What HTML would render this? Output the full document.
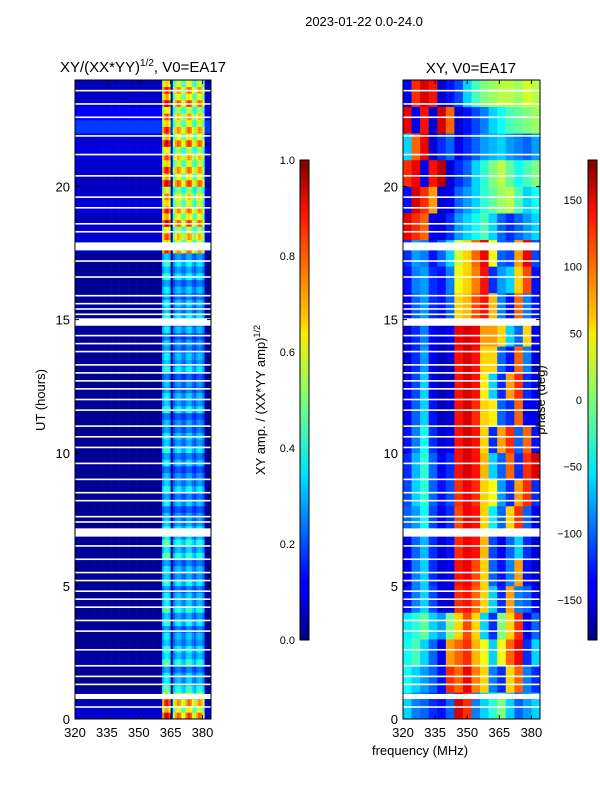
<!DOCTYPE html>
<html><head><meta charset="utf-8">
<style>
body{margin:0;background:#fff;}
svg text{font-family:"Liberation Sans",sans-serif;fill:#000;}
</style></head>
<body>
<svg id="fig" width="600" height="800" viewBox="0 0 600 800" xmlns="http://www.w3.org/2000/svg">
<defs>
<linearGradient id="jet" x1="0" y1="1" x2="0" y2="0">
<stop offset="0" stop-color="#00007f"/><stop offset="0.11" stop-color="#0000ff"/>
<stop offset="0.125" stop-color="#0000ff"/><stop offset="0.34" stop-color="#00dcff"/>
<stop offset="0.35" stop-color="#00e5f7"/><stop offset="0.5" stop-color="#7dff7a"/>
<stop offset="0.64" stop-color="#ffea00"/><stop offset="0.66" stop-color="#ffd000"/>
<stop offset="0.89" stop-color="#ff1300"/><stop offset="1" stop-color="#7f0000"/>
</linearGradient>
</defs>
<text x="364" y="26" font-size="13" text-anchor="middle">2023-01-22 0.0-24.0</text>
<text x="143" y="72" font-size="15" text-anchor="middle">XY/(XX*YY)<tspan font-size="10" dy="-6">1/2</tspan><tspan dy="6">, V0=EA17</tspan></text>
<text x="471" y="73" font-size="15" text-anchor="middle">XY, V0=EA17</text>
<g id="left"></g>
<g id="right"></g>
<g id="axes"></g>
<rect x="300" y="160" width="9" height="480" fill="url(#jet)" stroke="#000" stroke-width="1"/>
<rect x="588" y="160" width="9" height="480" fill="url(#jet)" stroke="#000" stroke-width="1"/>
<text transform="translate(45,400) rotate(-90)" font-size="13" text-anchor="middle">UT (hours)</text>
<text transform="translate(265,400) rotate(-90)" font-size="13" text-anchor="middle">XY amp. / (XX*YY amp)<tspan font-size="9" dy="-5">1/2</tspan></text>
<text transform="translate(545,400) rotate(-90)" font-size="13" text-anchor="middle">phase (deg)</text>
<text x="420" y="755" font-size="13" text-anchor="middle">frequency (MHz)</text>
</svg>
<script>
// ---- data ----
const ampTicks = ["0.0","0.2","0.4","0.6","0.8","1.0"];
const phaseTicks = [-150,-100,-50,0,50,100,150];
const timeTicks = [0,5,10,15,20];
const freqTicks = [320,335,350,365,380];
const bandStarts = [361.0,366.4,371.5,376.5];
const bandEnds = [365.4,371.0,375.8,380.8];
const bandWeights = [1.0,0.85,0.9,0.85];
// per 0.5 h row, bottom to top
const bandLevel = [0.85,0.8,0.45,0.35,0.45,0.4,0.35,0.4,0.45,0.35,0.4,0.35,0.45,0.45,
 0.4,0.3,0.35,0.4,0.3,0.35,0.4,0.35,0.3,0.4,0.35,0.3,0.4,0.35,0.3,0.35,0.4,0.35,0.35,0.4,0.4,
 0.8,0.75,0.85,0.8,0.7,0.85,0.8,0.75,0.85,0.8,0.75,0.85,0.8];
const bgLevel = [0.08,0.06,0.02,0.02,0.03,0.02,0.02,0.02,0.02,0.02,0.02,0.02,0.02,0.02,
 0.02,0.02,0.02,0.02,0.02,0.02,0.02,0.02,0.02,0.02,0.02,0.02,0.02,0.02,0.02,0.02,0.02,0.02,0.02,0.02,0.02,
 0.06,0.08,0.06,0.09,0.07,0.06,0.08,0.1,0.08,0.18,0.12,0.07,0.06];
// phase (deg), rows of 1 h, columns of 4 MHz (320..384)
const phase = [
[-60,-90,-100,-120,-130,-100,150,120,-90,-60,-30,0,-60,-100,-80,-60],
[-40,-60,-80,-100,-130,120,100,140,90,60,-90,-120,60,100,-90,-120],
[-40,-20,-60,-100,-140,80,100,120,70,40,-60,40,100,140,-120,-60],
[-50,-30,-10,-60,-80,0,60,110,60,-60,-120,0,60,120,-140,-100],
[-130,-90,-60,-110,-150,-150,120,130,100,60,-60,-120,80,-90,-100,-140],
[-140,-90,-60,-120,-150,-140,130,140,110,60,-100,-130,-90,80,-130,-150],
[-140,-100,-70,-120,-150,-130,120,140,130,70,-110,-140,-100,-60,-120,-150],
[-100,-80,-40,-110,-140,-120,110,140,130,60,-50,-100,60,120,-100,-140],
[-110,-60,-30,-100,-130,-110,120,140,120,60,40,-80,-120,80,120,-120],
[-120,-70,-30,-100,-140,-120,130,150,130,70,-60,-100,100,-120,120,150],
[-130,-90,-40,-120,-150,-140,130,150,130,60,-120,80,120,-100,100,-130],
[-140,-100,-60,-130,-160,-150,130,150,120,60,50,-100,-120,100,-140,-140],
[-140,-110,-60,-140,-160,-150,130,150,130,50,-60,-120,80,120,-120,-140],
[-150,-120,-80,-140,-160,-150,130,150,130,60,60,-100,-130,100,-90,-150],
[-150,-120,-90,-140,-150,-140,140,150,140,80,80,60,-60,-100,60,-140],
[-140,-100,-80,-120,-130,-100,60,70,110,130,70,-90,-130,100,-90,-130],
[-130,-90,-80,-120,-130,-90,40,60,90,130,-120,-80,-60,60,110,-130],
[-120,-80,-90,-130,-100,-60,30,60,100,140,40,-100,-110,80,140,-110],
[140,120,100,-140,-150,-120,-80,-60,-40,-20,-60,-100,-120,-100,-80,-60],
[-130,150,120,80,-150,-140,-100,-80,-60,-30,-10,10,20,-20,-60,-40],
[120,140,-140,130,160,-150,-120,-100,-60,-30,0,20,-10,-40,-20,0],
[-60,100,140,-150,-120,-100,-140,-120,-100,-80,-70,-60,-80,-90,-100,-80],
[140,-140,130,-150,150,100,-150,-130,-110,-90,-60,-40,-20,-10,0,10],
[-140,120,150,130,-150,-130,-110,-60,-20,0,10,20,20,10,30,20]];
// missing data (hours)
const bigGaps = [[17.6,17.9],[14.77,15.05],[6.85,7.16],[0.75,0.94]];
const thinGaps = [23.6,23.1,22.6,21.9,21.2,20.4,19.6,19.2,18.6,18.3,17.2,16.6,15.9,15.6,15.4,15.2,
 14.4,14.1,13.8,13.3,13.0,12.7,12.4,12.0,11.6,11.0,10.6,10.2,9.6,9.0,8.5,8.2,7.6,7.4,6.5,6.0,5.5,5.2,
 4.8,4.5,4.2,3.7,3.3,2.6,2.0,1.6,1.3,0.45];

// ---- layout ----
const NS='http://www.w3.org/2000/svg';
const T0=719, T1=80, F0=320, F1=384;
const L={x0:75,x1:211}, R={x0:403,x1:540};
const yT=t=>T0+(T1-T0)*t/24;
const xF=(p,f)=>p.x0+(p.x1-p.x0)*(f-F0)/(F1-F0);
function jet(v){v=Math.max(0,Math.min(1,v));
 const c=x=>Math.max(0,Math.min(1,x));
 const r=c(Math.min(4*v-1.5,-4*v+4.5)),g=c(Math.min(4*v-0.5,-4*v+3.5)),b=c(Math.min(4*v+0.5,-4*v+2.5));
 return `rgb(${Math.round(r*255)},${Math.round(g*255)},${Math.round(b*255)})`;}
function mk(parent,tag,attrs){const e=document.createElementNS(NS,tag);for(const k in attrs)e.setAttribute(k,attrs[k]);parent.appendChild(e);return e;}

// left amplitude heatmap
const gl=document.getElementById('left');
for(let i=0;i<96;i++){
 const r=Math.floor(i/2), t0=i*0.25, t1=t0+0.25, fac=(i%2)?0.85:1.1;
 for(let f=F0;f<F1;f++){
  let v=bgLevel[r];
  for(let b=0;b<bandStarts.length;b++){
   if(f+0.5>=bandStarts[b]&&f+0.5<=bandEnds[b]){
    const fr=(f+0.5-bandStarts[b])/(bandEnds[b]-bandStarts[b]);
    v=bandLevel[r]*bandWeights[b]*fac*(0.7+0.3*Math.sin(Math.PI*fr));}
  }
  const e=mk(gl,'rect',{x:xF(L,f),y:yT(t1),width:xF(L,f+1)-xF(L,f)+0.3,height:yT(t0)-yT(t1)+0.3,fill:jet(v)});
  
  
 }
}
// right phase heatmap
const gr=document.getElementById('right');
phase.forEach((row,ri)=>{
 row.forEach((p,ci)=>{
  const f0=F0+ci*4,f1=f0+4;
  const e=mk(gr,'rect',{x:xF(R,f0),y:yT(ri+1),width:xF(R,f1)-xF(R,f0)+0.3,height:yT(ri)-yT(ri+1)+0.3,fill:jet((p+180)/360)});
  
  
 });
});
// gaps
const ga=document.getElementById('axes');
[L,R].forEach(p=>{
 bigGaps.forEach(g=>{const e=mk(ga,'rect',{x:p.x0,y:yT(g[1]),width:p.x1-p.x0,height:yT(g[0])-yT(g[1]),fill:'#fff'});
  
  });
 thinGaps.forEach(t=>{const e=mk(ga,'rect',{x:p.x0,y:yT(t)-0.8,width:p.x1-p.x0,height:1.6,fill:'#fff'});
  
  });
 const fr=mk(ga,'rect',{x:p.x0,y:T1,width:p.x1-p.x0,height:T0-T1,fill:'none',stroke:'#000','stroke-width':1});
 
 
 timeTicks.forEach(t=>{
  mk(ga,'line',{x1:p.x0,x2:p.x0+4,y1:yT(t),y2:yT(t),stroke:'#000'});
  mk(ga,'line',{x1:p.x1-4,x2:p.x1,y1:yT(t),y2:yT(t),stroke:'#000'});
  const tx=mk(ga,'text',{x:p.x0-5,y:yT(t)+5,'font-size':13,'text-anchor':'end'});tx.textContent=t;
  
  
 });
 freqTicks.forEach(f=>{
  mk(ga,'line',{x1:xF(p,f),x2:xF(p,f),y1:T0,y2:T0-4,stroke:'#000'});
  mk(ga,'line',{x1:xF(p,f),x2:xF(p,f),y1:T1,y2:T1+4,stroke:'#000'});
  const tx=mk(ga,'text',{x:xF(p,f),y:737,'font-size':13,'text-anchor':'middle'});tx.textContent=f;
  
  
 });
});
// colorbar ticks
ampTicks.forEach((s,i)=>{
 const y=640-480*i/(ampTicks.length-1);
 mk(ga,'line',{x1:300,x2:304,y1:y,y2:y,stroke:'#000'});
 const tx=mk(ga,'text',{x:295,y:y+4,'font-size':11,'text-anchor':'end'});tx.textContent=s;
 
 
});
phaseTicks.forEach(v=>{
 const y=640-480*(v+180)/360;
 mk(ga,'line',{x1:588,x2:592,y1:y,y2:y,stroke:'#000'});
 const tx=mk(ga,'text',{x:582,y:y+4,'font-size':11,'text-anchor':'end'});tx.textContent=v<0?'\u2212'+(-v):v;
 
 
});
</script>
</body></html>
